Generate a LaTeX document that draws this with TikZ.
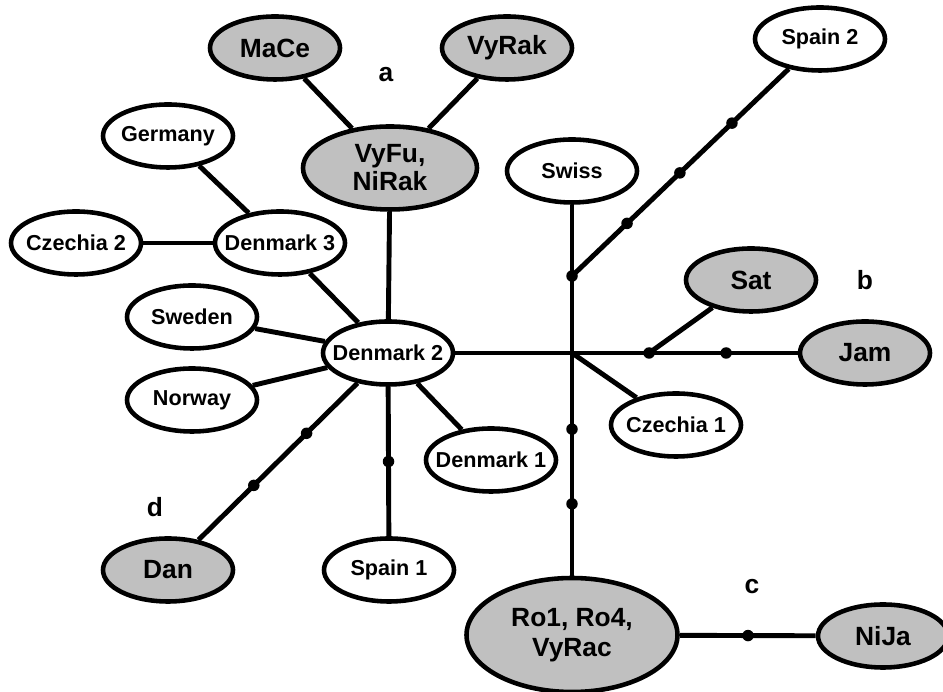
\documentclass[tikz,border=0pt]{standalone}
\usepackage{fontspec}
\setmainfont{Liberation Sans}
\usetikzlibrary{shapes.geometric,calc}
\definecolor{knotengrau}{RGB}{192,192,192}
\tikzset{
  land/.style={ellipse, draw, line width=2.6pt, fill=white, minimum width=2.6cm, minimum height=1.26cm,
    inner xsep=-0.4cm, inner ysep=-0.1cm, font=\bfseries\fontsize{12.3}{14}\selectfont},
  gruppe/.style={land, fill=knotengrau, align=center, font=\bfseries\fontsize{15}{17}\selectfont},
  punkt/.style={circle, fill, inner sep=0pt, minimum size=0.23cm},
  kante/.style={line width=2.8pt},
  marke/.style={font=\bfseries\fontsize{15}{17}\selectfont}
}

\begin{document}
\begin{tikzpicture}
  \useasboundingbox (0,0) rectangle (18.86,13.84);

  % Gruppen (grau)
  \node[gruppe] (mace) at (5.50,12.88) {MaCe};
  \node[gruppe] (vyrak) at (10.14,12.88) {VyRak};
  \node[gruppe, minimum width=3.48cm, minimum height=1.66cm, font=\bfseries\fontsize{15}{16}\selectfont] (vyfu) at (7.80,10.48) {VyFu,\\NiRak};
  \node[gruppe] (sat) at (15.02,8.24) {Sat};
  \node[gruppe] (jam) at (17.30,6.78) {Jam};
  \node[gruppe] (dan) at (3.36,2.44) {Dan};
  \node[gruppe, minimum width=4.22cm, minimum height=2.28cm] (ro) at (11.44,1.14) {Ro1, Ro4,\\VyRac};
  \node[gruppe] (nija) at (17.66,1.12) {NiJa};

  % Laender (weiss)
  \node[land] (spain2) at (16.40,13.06) {Spain 2};
  \node[land] (germany) at (3.36,11.12) {Germany};
  \node[land] (swiss) at (11.44,10.42) {Swiss};
  \node[land] (czechia2) at (1.52,8.98) {Czechia 2};
  \node[land] (denmark3) at (5.60,8.98) {Denmark 3};
  \node[land] (sweden) at (3.84,7.50) {Sweden};
  \node[land] (denmark2) at (7.76,6.78) {Denmark 2};
  \node[land] (norway) at (3.84,5.84) {Norway};
  \node[land] (czechia1) at (13.52,5.34) {Czechia 1};
  \node[land] (denmark1) at (9.82,4.64) {Denmark 1};
  \node[land] (spain1) at (7.78,2.44) {Spain 1};

  % Beschriftung der Gruppen
  \node[marke] (marke a) at (7.72,12.34) {a};
  \node[marke] (marke b) at (17.30,8.24) {b};
  \node[marke] (marke c) at (15.04,2.10) {c};
  \node[marke] (marke d) at (3.10,3.70) {d};

  % Verzweigungspunkte
  \coordinate (mitte) at (11.44,6.78);
  \coordinate (abzweig) at (11.44,8.32);
  \coordinate (satabzweig) at ($(mitte)!0.263!(jam)$);

  % Kanten
  \draw[kante] (mace) -- (vyfu);
  \draw[kante] (vyrak) -- (vyfu);
  \draw[kante] (vyfu) -- (denmark2);
  \draw[kante] (germany) -- (denmark3);
  \draw[kante] (czechia2) -- (denmark3);
  \draw[kante] (denmark3) -- (denmark2);
  \draw[kante] (sweden) -- (denmark2);
  \draw[kante] (norway) -- (denmark2);
  \draw[kante] (denmark1) -- (denmark2);
  \draw[kante] (spain1) -- (denmark2);
  \draw[kante] (dan) -- (denmark2);
  \draw[kante] (denmark2) -- (mitte) -- (jam);
  \draw[kante] (swiss) -- (ro);
  \draw[kante] (mitte) -- (czechia1);
  \draw[kante] (abzweig) -- (spain2);
  \draw[kante] (satabzweig) -- (sat);
  \draw[kante] (ro) -- (nija);

  % Punktmarkierungen
  \node[punkt] (p abzweig) at (abzweig) {};
  \node[punkt] (p sat) at (satabzweig) {};
  \node[punkt] (p spain2 a) at ($(abzweig)!0.222!(spain2)$) {};
  \node[punkt] (p spain2 b) at ($(abzweig)!0.435!(spain2)$) {};
  \node[punkt] (p spain2 c) at ($(abzweig)!0.645!(spain2)$) {};
  \node[punkt] (p jam) at ($(mitte)!0.526!(jam)$) {};
  \node[punkt] (p ro a) at ($(mitte)!0.27!(ro)$) {};
  \node[punkt] (p ro b) at ($(mitte)!0.535!(ro)$) {};
  \node[punkt] (p nija) at ($(ro)!0.566!(nija)$) {};
  \node[punkt] (p spain1) at ($(denmark2)!0.50!(spain1)$) {};
  \node[punkt] (p dan a) at ($(denmark2)!0.37!(dan)$) {};
  \node[punkt] (p dan b) at ($(denmark2)!0.61!(dan)$) {};
\end{tikzpicture}
\end{document}
